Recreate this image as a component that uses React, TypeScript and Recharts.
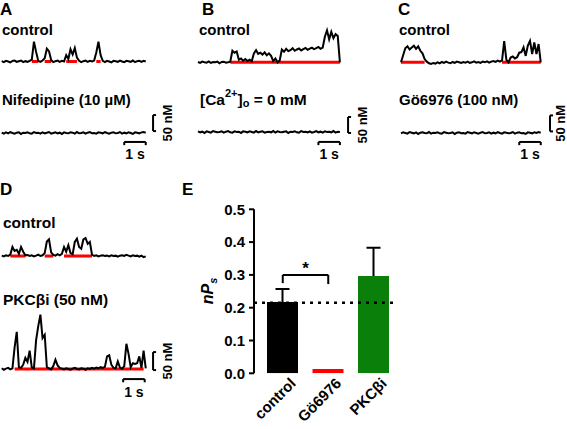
import React from 'react';
import { LineChart, Line, XAxis, YAxis, ReferenceLine, BarChart, Bar, Cell } from 'recharts';

const FONT = '"Liberation Sans", Arial, Helvetica, sans-serif';
const STEP = 0.1; // seconds between samples
const PPS = 21.5; // px per second

// ---------- Panel A ----------
const aControl = [1,-2,2,0,-3,2,3,-1,1,3, -2,1,-1,2,6,62,30,2,-1,3, 10,40,32,5,-2,1,3,-1,2,0, 20,8,38,22,42,12,2,-2,1,3, -1,2,0,3,28,62,20,2,-2,2, 0,-3,2,1,-1,3,0,-2,2,1, -1,3,-2,1,2,-1,2,0];
const aControlOpen: [number, number][] = [[1.4, 1.7], [2.0, 2.3], [3.0, 3.5], [4.4, 4.6]];
const aNifedipine = [1,-2,2,-1,3,0,-2,1,2,-3, 1,0,2,-1,-2,3,0,1,-2,2, -1,1,3,-2,0,2,-1,1,-3,2, 0,-1,2,1,-2,3,-1,0,2,-2, 1,3,-1,0,-2,2,1,-1,3,0, -2,1,2,-1,0,3,-2,1,-1,2, 0,-3,2,1,-1,2,3,1];

// ---------- Panel B ----------
const bControl = [1,-2,2,0,-1,3,-2,1,0,2,-3,1,2,-1,0,2, 36,30,34, 8,12,5,10,4,8,3, 28,38,26,30,24,31,22,28,20, 4,12,0,6, 40,33,42,35,38,44,36,40,43,37,41,45,39,43,46,41,44,48,42,46, 80,100,72,95,75,88,82,0];
const bControlOpen: [number, number][] = [[1.5, 6.6]];
const bCaFree = [2,-1,1,-3,2,0,-2,3,1,-1, 0,2,-2,1,3,-1,-2,2,0,1, -3,2,1,-1,2,0,-2,3,-1,1, 2,-2,0,1,-1,3,-2,2,0,-1, 1,2,-3,1,0,2,-1,-2,3,0, 1,-1,2,-2,0,3,-1,1,-2,2, 0,1,-1,3,-2,1,0];

// ---------- Panel C ----------
const cControl = [0,22,44,50,40,46,52,42,50,36,28,10,2, -3,-5,-2,-4,0,-3,1,-2,2,-1,-3,1,-2,2,0,-2,1,-1,2,-2,0,3,-1,1,-2,2,0,3,-1,2,4,1,5,2,6, 66,8,0,15,18,12,16,30,32,47,20,52,67,26,62,26,57,0];
const cControlOpen: [number, number][] = [[0, 1.1], [4.7, 6.5]];
const cGo6976 = [-1,2,0,-2,3,1,-1,2,-3,1, 2,0,-1,3,-2,1,0,2,-1,-2, 3,1,-1,0,2,-3,1,2,-1,0, -2,3,1,-1,2,0,-2,1,3,-1, 0,2,-2,1,-1,3,0,-2,2,1, -1,0,3,-2,1,2,-1,0,-3,2, 1,-1,2,0,3,1];

// ---------- Panel D ----------
const dControl = [1,-1,2,0,4,25,14,17,6,25, 12,2,3,0,2,-1,1,4,0,2, 8,40,46,10,3,1,5,2,6,25, 12,30,8,5,39,48,25,20,46,50, 34,39,4,0,2,-1,1,2,0,1, -1,2,0,1,-2,1,2,0,3,1, -1,2,0,1,-2,1,-3,-1];
const dControlOpen: [number, number][] = [[0.4, 1.1], [2.0, 2.4], [2.9, 4.2]];
const dPkc = [2,-2,1,3,-1,2,60,103,5,3, 12,31,20,51,4,2,80,119,151,86, 95,5,2,-1,8,26,10,3,1,-1, 2,0,-2,1,3,0,-1,2,1,-2, 2,0,3,1,4,2,5,3,6,35, 38,12,3,2,21,4,1,8,70,42, 5,16,14,16,35,3,51,2];
const dPkcOpen: [number, number][] = [[0.6, 6.6]];

// ---------- Panel E ----------
const eCategories = ['control', 'Gö6976', 'PKCβi'];
const eMeans = [0.217, 0.013, 0.297];
const eSem = [0.04, 0, 0.086];
const eColors = ['#000000', '#ff0000', '#0a7f0a'];
const eYTicks = [0, 0.1, 0.2, 0.3, 0.4, 0.5];
const eControlLevel = 0.215;

type Box = { left: number; top: number; width: number; height: number };
type Scale = { t0: number; dur: number; yBar: number; vx: number; vy0: number; amp: number; tickT: number; tickY: number; labelDx: number };

function scaleBarLines(s: Scale) {
  const k = { stroke: '#000', strokeWidth: 2, ifOverflow: 'visible' as const };
  const timeLabel = (p: any) => {
    const vb = p.viewBox || {};
    return (
      <text x={vb.x + (vb.width || 0) / 2} y={vb.y + 17.5} textAnchor="middle" fontFamily={FONT} fontWeight="bold" fontSize={14} fill="#000">
        1 s
      </text>
    );
  };
  const ampLabel = (p: any) => {
    const vb = p.viewBox || {};
    const cx = vb.x + s.labelDx;
    const cy = vb.y + (vb.height || 0) / 2;
    return (
      <text x={cx} y={cy} transform={`rotate(-90, ${cx}, ${cy})`} textAnchor="middle" fontFamily={FONT} fontWeight="bold" fontSize={13} fill="#000">
        50 nM
      </text>
    );
  };
  return [
    <ReferenceLine key="tb" segment={[{ x: s.t0, y: s.yBar }, { x: s.t0 + s.dur, y: s.yBar }]} {...k} label={timeLabel} />,
    <ReferenceLine key="tb1" segment={[{ x: s.t0, y: s.yBar }, { x: s.t0, y: s.yBar - s.tickY }]} {...k} />,
    <ReferenceLine key="tb2" segment={[{ x: s.t0 + s.dur, y: s.yBar }, { x: s.t0 + s.dur, y: s.yBar - s.tickY }]} {...k} />,
    <ReferenceLine key="vb" segment={[{ x: s.vx, y: s.vy0 }, { x: s.vx, y: s.vy0 + s.amp }]} {...k} label={ampLabel} />,
    <ReferenceLine key="vb1" segment={[{ x: s.vx, y: s.vy0 }, { x: s.vx + s.tickT, y: s.vy0 }]} {...k} />,
    <ReferenceLine key="vb2" segment={[{ x: s.vx, y: s.vy0 + s.amp }, { x: s.vx + s.tickT, y: s.vy0 + s.amp }]} {...k} />,
  ];
}

function Trace({ values, open, x0, yb, ppn, box, scale }: { values: number[]; open: [number, number][]; x0: number; yb: number; ppn: number; box: Box; scale?: Scale }) {
  const data = values.map((v, i) => {
    const t = Math.round(i * STEP * 100) / 100;
    const isOpen = open.some(([a, b]) => t >= a - 1e-6 && t <= b + 1e-6);
    return { t, v, r: isOpen ? 0 : null };
  });
  const xd: [number, number] = [(box.left - x0) / PPS, (box.left + box.width - x0) / PPS];
  const yd: [number, number] = [(yb - box.top - box.height) / ppn, (yb - box.top) / ppn];
  return (
    <div style={{ position: 'absolute', left: box.left, top: box.top }}>
      <LineChart width={box.width} height={box.height} data={data} margin={{ top: 0, right: 0, bottom: 0, left: 0 }}>
        <XAxis type="number" dataKey="t" domain={xd} hide allowDataOverflow />
        <YAxis type="number" domain={yd} hide allowDataOverflow />
        <Line dataKey="r" stroke="#ff0000" strokeWidth={3} dot={false} isAnimationActive={false} connectNulls={false} />
        <Line dataKey="v" stroke="#000" strokeWidth={2} dot={false} isAnimationActive={false} />
        {scale ? scaleBarLines(scale) : null}
      </LineChart>
    </div>
  );
}

const XTick = (p: any) => {
  const x = p.x + 14;
  const y = p.y + 3;
  return (
    <text x={x} y={y} transform={`rotate(-45, ${x}, ${y})`} textAnchor="end" fontFamily={FONT} fontWeight="bold" fontSize={15} fill="#000">
      {p.payload.value}
    </text>
  );
};

const ErrShape = (p: any) => {
  const { x, y, width, height } = p;
  if (!height || height <= 0) return null;
  const cx = x + width / 2;
  return (
    <g stroke="#000" strokeWidth={2}>
      <line x1={cx} y1={y + height} x2={cx} y2={y} />
      <line x1={cx - 7} y1={y} x2={cx + 7} y2={y} />
    </g>
  );
};

function PanelE() {
  const data = eCategories.map((name, i) => ({ name, mean: eMeans[i], err: eSem[i] }));
  const star = (p: any) => {
    const vb = p.viewBox || {};
    return (
      <text x={vb.x + (vb.width || 0) / 2} y={vb.y - 1} textAnchor="middle" fontFamily={FONT} fontWeight="bold" fontSize={17} fill="#000">
        *
      </text>
    );
  };
  const br = { stroke: '#000', strokeWidth: 2, ifOverflow: 'visible' as const };
  return (
    <div style={{ position: 'absolute', left: 180, top: 200 }}>
      <BarChart width={240} height={229} data={data} margin={{ top: 9.3, right: 22, bottom: 5.7, left: 0 }} barSize={31}>
        <XAxis dataKey="name" axisLine={false} tickLine={false} tick={<XTick />} height={50} interval={0} padding={{ left: 6, right: 1.5 }} />
        <YAxis
          domain={[0, 0.5]}
          ticks={eYTicks}
          tickFormatter={(v: number) => v.toFixed(1)}
          width={74}
          axisLine={{ stroke: '#000', strokeWidth: 2 }}
          tickLine={{ stroke: '#000', strokeWidth: 2 }}
          tickSize={5}
          tickMargin={4}
          tick={{ fill: '#000', fontSize: 15, fontWeight: 'bold', fontFamily: FONT }}
          allowDataOverflow
        />
        <Bar dataKey="mean" stackId="s" isAnimationActive={false}>
          {data.map((d, i) => (
            <Cell key={d.name} fill={eColors[i]} />
          ))}
        </Bar>
        <Bar dataKey="err" stackId="s" isAnimationActive={false} shape={<ErrShape />} fill="none" />
        <ReferenceLine y={eControlLevel} stroke="#000" strokeWidth={2.5} strokeDasharray="3 5" />
        <ReferenceLine segment={[{ x: eCategories[0], y: 0.275 }, { x: eCategories[0], y: 0.3 }]} {...br} />
        <ReferenceLine segment={[{ x: eCategories[0], y: 0.3 }, { x: eCategories[1], y: 0.3 }]} {...br} label={star} />
        <ReferenceLine segment={[{ x: eCategories[1], y: 0.3 }, { x: eCategories[1], y: 0.272 }]} {...br} />
      </BarChart>
    </div>
  );
}

const T = { fontFamily: FONT, fontWeight: 'bold' as const, fill: '#000' };

export default function App() {
  return (
    <div style={{ position: 'absolute', left: 0, top: 0, width: 567, height: 429, overflow: 'hidden', background: '#fff' }}>
      <svg width={567} height={429} style={{ position: 'absolute', left: 0, top: 0 }}>
        <text x={0} y={15} fontSize={17} {...T}>A</text>
        <text x={2} y={35} fontSize={15} {...T}>control</text>
        <text x={2} y={105} fontSize={15} {...T}>Nifedipine (10 µM)</text>

        <text x={202} y={15} fontSize={17} {...T}>B</text>
        <text x={199} y={35} fontSize={15} {...T}>control</text>
        <text x={200} y={105} fontSize={15.5} {...T}>
          [Ca<tspan fontSize={11} dy={-8}>2+</tspan>
          <tspan dy={8}>]</tspan>
          <tspan fontSize={11} dy={2}>o</tspan>
          <tspan dy={-2}> = 0 mM</tspan>
        </text>

        <text x={398} y={15} fontSize={17} {...T}>C</text>
        <text x={399} y={35} fontSize={15} {...T}>control</text>
        <text x={399} y={105} fontSize={15} {...T}>Gö6976 (100 nM)</text>

        <text x={0} y={195} fontSize={17} {...T}>D</text>
        <text x={3} y={228} fontSize={15.5} {...T}>control</text>
        <text x={3} y={305} fontSize={15.5} {...T}>PKCβi (50 nM)</text>

        <text x={182} y={195} fontSize={17} {...T}>E</text>
        <text transform="translate(213,291) rotate(-90)" textAnchor="middle" fontSize={16} fontStyle="italic" {...T}>
          nP<tspan fontSize={11} dy={4}>s</tspan>
        </text>
      </svg>

      <Trace values={aControl} open={aControlOpen} x0={1.7} yb={61.5} ppn={0.32} box={{ left: 0, top: 30, width: 150, height: 40 }} />
      <Trace values={aNifedipine} open={[]} x0={1.7} yb={133} ppn={0.32} box={{ left: 0, top: 98, width: 185, height: 70 }}
        scale={{ t0: 5.7, dur: 1, yBar: -28, vx: 7.04, vy0: 6, amp: 50, tickT: 0.14, tickY: 10, labelDx: 18.5 }} />

      <Trace values={bControl} open={bControlOpen} x0={198} yb={62.3} ppn={0.32} box={{ left: 195, top: 20, width: 150, height: 50 }} />
      <Trace values={bCaFree} open={[]} x0={198} yb={132} ppn={0.32} box={{ left: 195, top: 98, width: 180, height: 70 }}
        scale={{ t0: 5.6, dur: 1, yBar: -31, vx: 6.98, vy0: -3, amp: 50, tickT: 0.14, tickY: 10, labelDx: 18.5 }} />

      <Trace values={cControl} open={cControlOpen} x0={401} yb={62.3} ppn={0.32} box={{ left: 396, top: 30, width: 150, height: 40 }} />
      <Trace values={cGo6976} open={[]} x0={401} yb={133} ppn={0.32} box={{ left: 396, top: 98, width: 171, height: 70 }}
        scale={{ t0: 5.5, dur: 1, yBar: -28, vx: 6.93, vy0: 5, amp: 50, tickT: 0.14, tickY: 10, labelDx: 15.5 }} />

      <Trace values={dControl} open={dControlOpen} x0={1.7} yb={256} ppn={0.36} box={{ left: 0, top: 225, width: 150, height: 40 }} />
      <Trace values={dPkc} open={dPkcOpen} x0={1.7} yb={369} ppn={0.36} box={{ left: 0, top: 308, width: 185, height: 95 }}
        scale={{ t0: 5.65, dur: 1, yBar: -28, vx: 7.04, vy0: -3, amp: 50, tickT: 0.14, tickY: 9, labelDx: 18.5 }} />

      <PanelE />
    </div>
  );
}
